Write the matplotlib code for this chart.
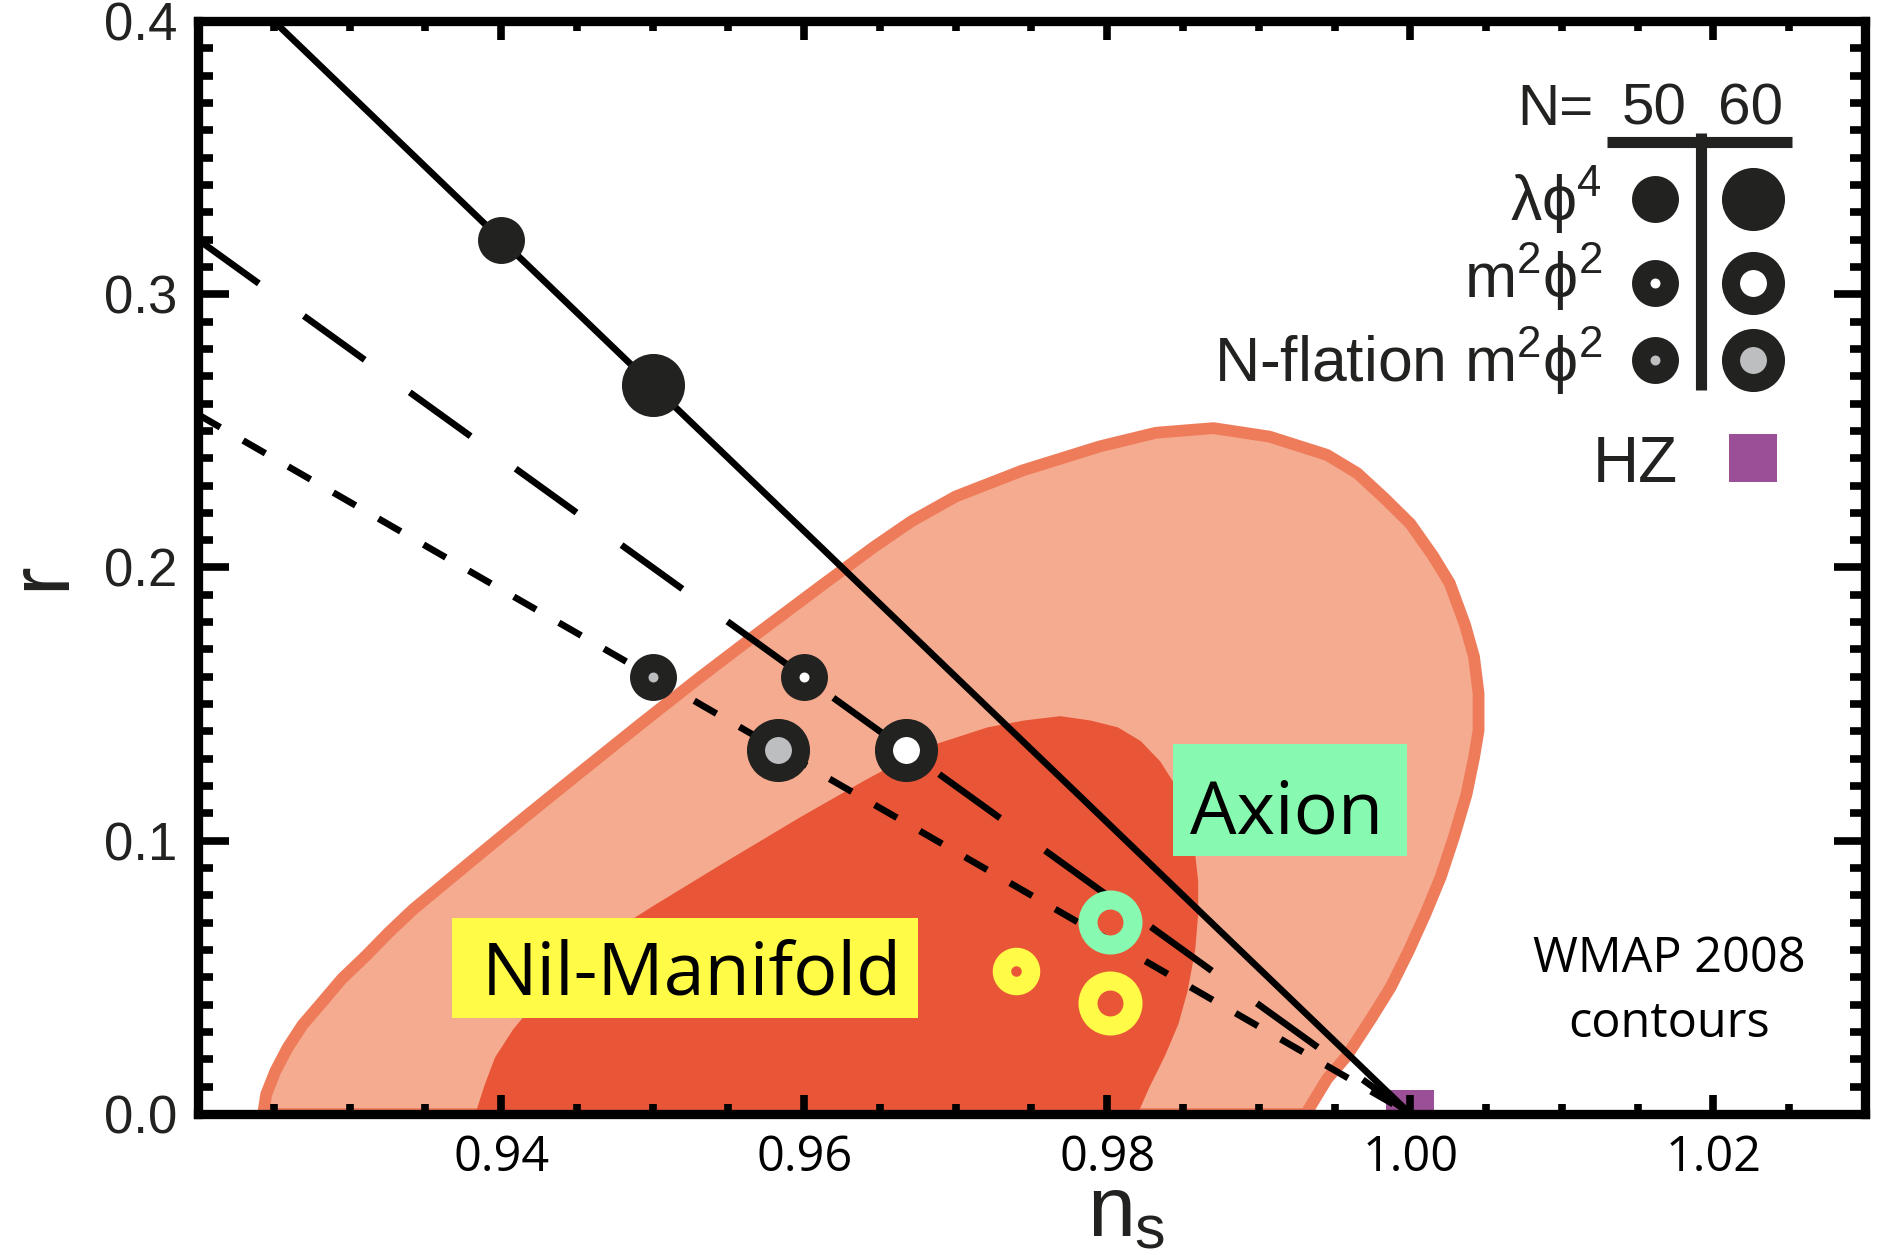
import matplotlib
matplotlib.use('Agg')
import matplotlib.pyplot as plt
from matplotlib.ticker import MultipleLocator
from matplotlib.patches import Rectangle

# --- Dados ---
# Contorno externo (95%) do WMAP 2008
outer_ns = [0.9243, 0.9245, 0.9251, 0.9259, 0.9269, 0.9282, 0.9295, 0.9311, 0.9326,
            0.9342, 0.9379, 0.9416, 0.9454, 0.9492, 0.9531, 0.9571, 0.9612, 0.9646,
            0.9671, 0.9700, 0.9744, 0.9795, 0.9832, 0.9870, 0.9907, 0.9945, 0.9965,
            0.9983, 1.0000, 1.0015, 1.0026, 1.0036, 1.0042, 1.0045, 1.0045, 1.0042,
            1.0037, 1.0029, 1.0020, 1.0010, 0.9999, 0.9987, 0.9974, 0.9958, 0.9945,
            0.9931]
outer_r = [0.0, 0.0072, 0.0156, 0.0241, 0.0326, 0.0410, 0.0495, 0.0580, 0.0665,
           0.0749, 0.0919, 0.1088, 0.1258, 0.1427, 0.1597, 0.1766, 0.1936, 0.2075,
           0.2170, 0.2260, 0.2355, 0.2443, 0.2493, 0.2510, 0.2479, 0.2412, 0.2345,
           0.2253, 0.2160, 0.2042, 0.1942, 0.1791, 0.1673, 0.1539, 0.1404, 0.1304,
           0.1169, 0.1018, 0.0867, 0.0733, 0.0598, 0.0464, 0.0348, 0.0212, 0.0128,
           0.0]

# Contorno interno (68%)
inner_ns = [0.9383, 0.9389, 0.9396, 0.9408, 0.9423, 0.9440, 0.9460, 0.9480, 0.9500,
            0.9547, 0.9598, 0.9641, 0.9681, 0.9721, 0.9745, 0.9769, 0.9789, 0.9807,
            0.9822, 0.9835, 0.9845, 0.9852, 0.9857, 0.9860, 0.9860, 0.9858, 0.9853,
            0.9847, 0.9838, 0.9828, 0.9820]
inner_r = [0.0, 0.0104, 0.0207, 0.0310, 0.0410, 0.0512, 0.0614, 0.0690, 0.0760,
           0.0919, 0.1088, 0.1224, 0.1343, 0.1415, 0.1440, 0.1456, 0.1440, 0.1415,
           0.1365, 0.1290, 0.1203, 0.1103, 0.1001, 0.0851, 0.0733, 0.0599, 0.0450,
           0.0330, 0.0212, 0.0100, 0.0]

# Retas dos modelos
lam_line_ns = [0.925, 1.0]
lam_line_r = [0.4, 0.0]
m2_line_ns = [0.92, 1.0]
m2_line_r = [0.32, 0.0]
nfl_line_ns = [0.92, 1.0]
nfl_line_r = [0.256, 0.0]

# Pontos N=50 e N=60
lam_ns = [0.94, 0.95]
lam_r = [0.32, 0.2667]
m2_ns = [0.96, 0.9667]
m2_r = [0.16, 0.1333]
nfl_ns = [0.95, 0.9583]
nfl_r = [0.16, 0.1333]

# Nil-Manifold (amarelo), Axion (verde), HZ (roxo)
nil_ns = [0.9740, 0.9802]
nil_r = [0.0523, 0.0406]
axion_ns = [0.9802]
axion_r = [0.0703]
hz_ns = [1.0]
hz_r = [0.0]

xticks = [0.94, 0.96, 0.98, 1.00, 1.02]
xtick_labels = ['0.94', '0.96', '0.98', '1.00', '1.02']
yticks = [0.0, 0.1, 0.2, 0.3, 0.4]
ytick_labels = ['0.0', '0.1', '0.2', '0.3', '0.4']

legenda_rotulos = [r'$\mathrm{\lambda\phi^4}$', r'$\mathrm{m^2\phi^2}$', r'N-flation $\mathrm{m^2\phi^2}$']

# --- Cores ---
ESCURO = '#222220'
CINZA = '#bcbec0'
AMARELO = '#fffb46'
VERDE = '#88f9b0'
ROXO = '#9b4f96'
SALMAO = '#f5ab90'
BORDA = '#ee7c5b'
VERMELHO = '#e85637'

HELV = ['Liberation Sans', 'DejaVu Sans']
MYRIAD = ['Open Sans', 'DejaVu Sans']

plt.rcParams['mathtext.fontset'] = 'custom'
plt.rcParams['mathtext.rm'] = 'Liberation Sans'
plt.rcParams['mathtext.it'] = 'Liberation Sans'
plt.rcParams['mathtext.bf'] = 'Liberation Sans:bold'

fig = plt.figure(figsize=(18.83, 12.55), dpi=100)
ax = fig.add_axes([0.10515, 0.11235, 0.88529, 0.87092])
ax.set_xlim(0.92, 1.03)
ax.set_ylim(0.0, 0.4)

# Contornos WMAP
ax.fill(outer_ns, outer_r, facecolor=SALMAO, edgecolor=BORDA, lw=8.5, joinstyle='round', zorder=1)
ax.fill(inner_ns, inner_r, facecolor=VERMELHO, edgecolor='none', zorder=1.1)

# Caixas de texto
ax.add_patch(Rectangle((0.98433, 0.0946), 0.01544, 0.0408, facecolor=VERDE, edgecolor='none', zorder=1.5))
ax.text(0.99186, 0.1027, 'Axion', fontsize=53, family=MYRIAD, ha='center', va='baseline', zorder=1.6)
ax.add_patch(Rectangle((0.93676, 0.0351), 0.03076, 0.0368, facecolor=AMARELO, edgecolor='none', zorder=1.5))
ax.text(0.9526, 0.0436, 'Nil-Manifold', fontsize=53, family=MYRIAD, ha='center', va='baseline', zorder=1.6)

ax.text(1.01706, 0.0520, 'WMAP 2008', fontsize=35, family=MYRIAD, ha='center', va='baseline')
ax.text(1.01706, 0.0282, 'contours', fontsize=35, family=MYRIAD, ha='center', va='baseline')

# HZ (quadrado cortado pelo eixo)
ax.plot(hz_ns, hz_r, 's', ms=34.6, mfc=ROXO, mew=0, zorder=2)

# Retas
lw = 4.8
ax.plot(lam_line_ns, lam_line_r, color='black', lw=lw, zorder=3)
ax.plot(m2_line_ns, m2_line_r, color='black', lw=lw, dashes=(54 / lw, 40 / lw), zorder=3)
ax.plot(nfl_line_ns, nfl_line_r, color='black', lw=lw, dashes=(18.5 / lw, 19 / lw), zorder=3)

# tamanhos (ms, mew) para N=50 e N=60
tam = [(20.5, 13.3), (32.4, 13.0)]

for i in range(2):
    ms, ew = tam[i]
    ax.plot(lam_ns[i], lam_r[i], 'o', ms=ms, mfc=ESCURO, mec=ESCURO, mew=ew, zorder=5)
    ax.plot(m2_ns[i], m2_r[i], 'o', ms=ms, mfc='white', mec=ESCURO, mew=ew, zorder=5)
    ax.plot(nfl_ns[i], nfl_r[i], 'o', ms=ms, mfc=CINZA, mec=ESCURO, mew=ew, zorder=5)

ax.plot(nil_ns[0], nil_r[0], 'o', ms=20.9, mfc='none', mec=AMARELO, mew=13.3, zorder=5)
ax.plot(nil_ns[1], nil_r[1], 'o', ms=32.4, mfc='none', mec=AMARELO, mew=13.7, zorder=5)
ax.plot(axion_ns, axion_r, 'o', ms=32.4, mfc='none', mec=VERDE, mew=13.7, zorder=5)

# --- Legenda desenhada à mão ---
ax.text(1.01211, 0.3620, 'N=', fontsize=42, family=HELV, color=ESCURO, ha='right', va='baseline')
ax.text(1.01607, 0.3620, '50', fontsize=42, family=HELV, color=ESCURO, ha='center', va='baseline')
ax.text(1.02247, 0.3620, '60', fontsize=42, family=HELV, color=ESCURO, ha='center', va='baseline')
ax.plot([1.01297, 1.02518], [0.3558, 0.3558], color=ESCURO, lw=8, solid_capstyle='butt', zorder=4)
ax.plot([1.01918, 1.01918], [0.3591, 0.2650], color=ESCURO, lw=8, solid_capstyle='butt', zorder=4)

linhas_y = [0.3349, 0.3042, 0.2760]
base_y = [0.3272, 0.2987, 0.2679]
faces = [ESCURO, 'white', CINZA]
for rot, ym, yb, fc in zip(legenda_rotulos, linhas_y, base_y, faces):
    ax.text(1.01265, yb, rot, fontsize=45, family=HELV, color=ESCURO, ha='right', va='baseline')
    ax.plot(1.01614, ym, 'o', ms=tam[0][0], mfc=fc, mec=ESCURO, mew=tam[0][1], zorder=5)
    ax.plot(1.02261, ym, 'o', ms=tam[1][0], mfc=fc, mec=ESCURO, mew=tam[1][1], zorder=5)

ax.text(1.01766, 0.2313, 'HZ', fontsize=46, family=HELV, color=ESCURO, ha='right', va='baseline')
ax.plot(1.02261, 0.2401, 's', ms=34.6, mfc=ROXO, mew=0, zorder=5)

# Rótulos dos eixos
ax.text(0.97866, -0.0446, 'n', fontsize=62, family=HELV, color=ESCURO, ha='left', va='baseline')
ax.text(0.98176, -0.0494, 's', fontsize=44, family=HELV, color=ESCURO, ha='left', va='baseline')
fig.text(0.0223, 0.541, 'r', fontsize=62, family=HELV, color=ESCURO, rotation=90, ha='center', va='center')

# --- Eixos e ticks ---
ax.set_xticks(xticks, labels=xtick_labels, fontsize=35, family=MYRIAD)
ax.set_yticks(yticks, labels=ytick_labels, fontsize=38, family=HELV, color=ESCURO)
ax.xaxis.set_minor_locator(MultipleLocator(0.005))
ax.yaxis.set_minor_locator(MultipleLocator(0.01))
ax.tick_params(axis='both', which='both', direction='in', top=True, right=True, color='black')
ax.tick_params(axis='x', which='major', length=14, width=5.5, pad=14)
ax.tick_params(axis='x', which='minor', length=7, width=5.5)
ax.tick_params(axis='y', which='major', length=22, width=5.5, pad=15)
ax.tick_params(axis='y', which='minor', length=10.5, width=5.5)

for sp in ax.spines.values():
    sp.set_linewidth(6.7)
    sp.set_zorder(10)
ax.xaxis.set_zorder(10)
ax.yaxis.set_zorder(10)

fig.savefig('out.png', dpi=100)
